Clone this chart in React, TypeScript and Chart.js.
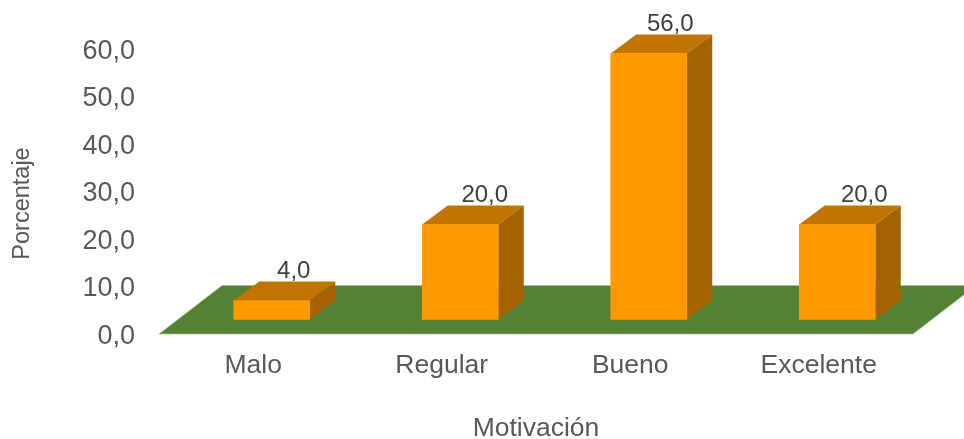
import React, { useEffect, useRef } from "react";
import { Chart, registerables } from "chart.js";

Chart.register(...registerables);

const categories = ["Malo", "Regular", "Bueno", "Excelente"];
const values = [4, 20, 56, 20];
const yTicksMax = 60;
const yStep = 10;
const xTitle = "Motivación";
const yTitle = "Porcentaje";

const FONT = "'Liberation Sans', Arial, sans-serif";
const TICK = "#595959";
const LABEL = "#404040";

const BAR_SHIFT_X = 18.5;
const BAR_SHIFT_Y = -14.5;
const DEPTH_X = 25.5;
const DEPTH_Y = 19;
const FLOOR_X = 63;
const FLOOR_Y = 48.5;
const LABEL_DX = [22, 24.5, 21.5, 27];
const Y_TICK_NUDGE = 2.5;

function poly(ctx: CanvasRenderingContext2D, pts: number[][], fill: string) {
  ctx.beginPath();
  pts.forEach((p, i) => (i ? ctx.lineTo(p[0], p[1]) : ctx.moveTo(p[0], p[1])));
  ctx.closePath();
  ctx.fillStyle = fill;
  ctx.fill();
}

const bars3d = {
  id: "bars3d",
  beforeDraw(chart: any) {
    const y = chart.scales.y;
    y._labelItems = y._computeLabelItems(chart.chartArea).map((item: any) => ({
      ...item,
      textOffset: item.textOffset + Y_TICK_NUDGE,
    }));
  },
  beforeDatasetsDraw(chart: any) {
    const { ctx, chartArea: a } = chart;
    const floor = [
      [a.left, a.bottom],
      [a.right, a.bottom],
      [a.right + FLOOR_X, a.bottom - FLOOR_Y],
      [a.left + FLOOR_X, a.bottom - FLOOR_Y],
    ];
    ctx.save();
    poly(ctx, floor, "#548235");
    ctx.strokeStyle = "rgba(169,196,146,0.7)";
    ctx.lineWidth = 1;
    ctx.stroke();
    ctx.restore();
  },
  beforeDatasetDraw(chart: any, args: any) {
    const { ctx } = chart;
    const meta = chart.getDatasetMeta(args.index);
    ctx.save();
    ctx.translate(BAR_SHIFT_X, BAR_SHIFT_Y);
    meta.data.forEach((el: any) => {
      const p = el.getProps(["x", "y", "base", "width"], true);
      const l = p.x - p.width / 2;
      const r = p.x + p.width / 2;
      poly(ctx, [[l, p.y], [r, p.y], [r + DEPTH_X, p.y - DEPTH_Y], [l + DEPTH_X, p.y - DEPTH_Y]], "#C17400");
      poly(ctx, [[r, p.y], [r + DEPTH_X, p.y - DEPTH_Y], [r + DEPTH_X, p.base - DEPTH_Y], [r, p.base]], "#A46300");
    });
  },
  afterDatasetDraw(chart: any) {
    chart.ctx.restore();
  },
  afterDraw(chart: any) {
    const { ctx, chartArea: a } = chart;
    const meta = chart.getDatasetMeta(0);
    ctx.save();
    ctx.font = `24px ${FONT}`;
    ctx.fillStyle = LABEL;
    ctx.textAlign = "center";
    ctx.textBaseline = "alphabetic";
    meta.data.forEach((el: any, i: number) => {
      const p = el.getProps(["x", "y"], true);
      const text = values[i].toFixed(1).replace(".", ",");
      ctx.fillText(text, p.x + BAR_SHIFT_X + LABEL_DX[i], p.y + BAR_SHIFT_Y - DEPTH_Y - 3.5);
    });
    ctx.translate(23, (a.top + a.bottom) / 2 + 12);
    ctx.rotate(-Math.PI / 2);
    ctx.textBaseline = "middle";
    ctx.font = `23.5px ${FONT}`;
    ctx.fillStyle = TICK;
    ctx.fillText(yTitle, 0, 0);
    ctx.restore();
  },
};

export default function App() {
  const ref = useRef<HTMLCanvasElement>(null);
  useEffect(() => {
    const chart = new Chart(ref.current as HTMLCanvasElement, {
      type: "bar",
      data: {
        labels: categories,
        datasets: [
          {
            data: values,
            backgroundColor: "#FF9900",
            barThickness: 76,
            clip: false,
          } as any,
        ],
      },
      plugins: [bars3d],
      options: {
        responsive: false,
        animation: false,
        layout: { padding: { top: 49, right: 51, left: 0, bottom: 0 } },
        plugins: { legend: { display: false }, tooltip: { enabled: false } },
        scales: {
          x: {
            grid: { display: false, drawTicks: false },
            border: { display: false },
            ticks: {
              color: TICK,
              font: { family: FONT, size: 26.5 },
              padding: 16,
              maxRotation: 0,
              autoSkip: false,
            },
            title: {
              display: true,
              text: xTitle,
              color: TICK,
              font: { family: FONT, size: 26.5 },
              padding: { top: 0, bottom: -6 },
            },
            afterFit(scale: any) {
              scale.height = 105;
            },
          },
          y: {
            min: 0,
            max: yTicksMax,
            grid: { display: false, drawTicks: false },
            border: { display: false },
            ticks: {
              stepSize: yStep,
              color: TICK,
              font: { family: FONT, size: 27 },
              padding: 24,
              callback: (v: any) => Number(v).toFixed(1).replace(".", ","),
            },
            afterFit(scale: any) {
              scale.width = 159;
            },
          },
        },
      },
    } as any);
    return () => chart.destroy();
  }, []);
  return (
    <canvas
      ref={ref}
      width={964}
      height={439}
      style={{ position: "absolute", left: 0, top: 0, display: "block" }}
    />
  );
}
